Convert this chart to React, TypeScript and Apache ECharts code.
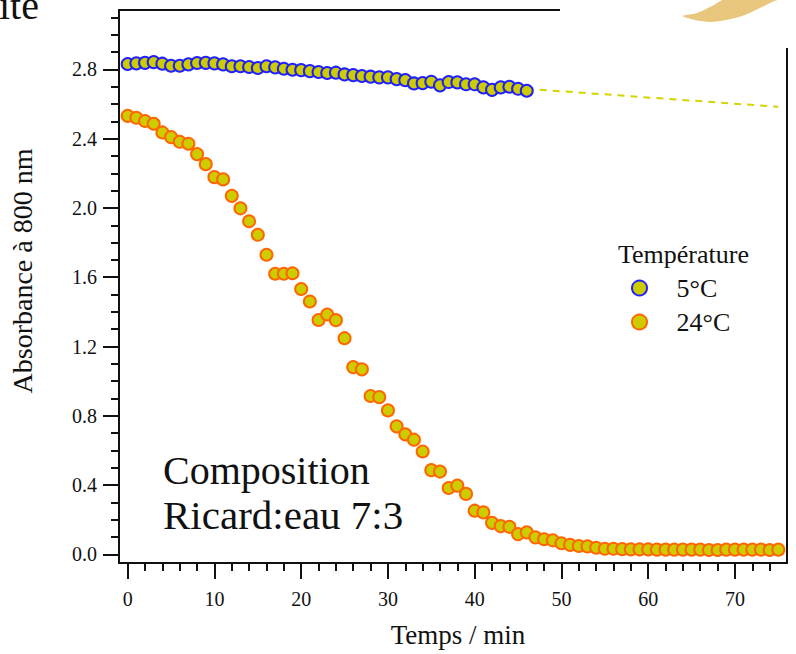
import React, { useEffect, useRef } from "react";
import * as echarts from "echarts";

const FONT = "'Liberation Serif', 'Times New Roman', serif";

// 5 °C series
const minutes5 = [0, 1, 2, 3, 4, 5, 6, 7, 8, 9, 10, 11, 12, 13, 14, 15, 16, 17, 18, 19, 20, 21, 22, 23, 24, 25, 26, 27, 28, 29, 30, 31, 32, 33, 34, 35, 36, 37, 38, 39, 40, 41, 42, 43, 44, 45, 46];
const abs5 = [2.831, 2.835, 2.838, 2.842, 2.833, 2.821, 2.821, 2.829, 2.837, 2.838, 2.835, 2.829, 2.818, 2.818, 2.814, 2.808, 2.818, 2.812, 2.804, 2.798, 2.796, 2.79, 2.785, 2.779, 2.781, 2.771, 2.767, 2.762, 2.758, 2.754, 2.754, 2.744, 2.738, 2.719, 2.721, 2.729, 2.708, 2.727, 2.725, 2.714, 2.714, 2.696, 2.682, 2.696, 2.7, 2.688, 2.677];

// 24 °C series
const minutes24 = [0, 1, 2, 3, 4, 5, 6, 7, 8, 9, 10, 11, 12, 13, 14, 15, 16, 17, 18, 19, 20, 21, 22, 23, 24, 25, 26, 27, 28, 29, 30, 31, 32, 33, 34, 35, 36, 37, 38, 39, 40, 41, 42, 43, 44, 45, 46, 47, 48, 49, 50, 51, 52, 53, 54, 55, 56, 57, 58, 59, 60, 61, 62, 63, 64, 65, 66, 67, 68, 69, 70, 71, 72, 73, 74, 75];
const abs24 = [
  2.532, 2.521, 2.502, 2.486, 2.436, 2.409, 2.382, 2.371, 2.311, 2.253,
  2.178, 2.165, 2.07, 1.998, 1.923, 1.845, 1.73, 1.62, 1.62, 1.623,
  1.532, 1.46, 1.353, 1.385, 1.352, 1.248, 1.081, 1.068, 0.914, 0.908,
  0.831, 0.739, 0.693, 0.662, 0.594, 0.486, 0.478, 0.383, 0.397, 0.349,
  0.252, 0.242, 0.182, 0.163, 0.159, 0.117, 0.127, 0.098, 0.087, 0.081,
  0.064, 0.055, 0.048, 0.046, 0.038, 0.032, 0.032, 0.03, 0.029, 0.029,
  0.029, 0.027, 0.027, 0.027, 0.027, 0.027, 0.027, 0.025, 0.025, 0.027,
  0.027, 0.027, 0.027, 0.027, 0.025, 0.027,
];

// extrapolated trend of the 5 °C series
const fitMinutes = [46, 75];
const fitAbs = [2.688, 2.584];

// ticks
const xMajor = [0, 10, 20, 30, 40, 50, 60, 70];
const xMinor = [2, 4, 6, 8, 12, 14, 16, 18, 22, 24, 26, 28, 32, 34, 36, 38, 42, 44, 46, 48, 52, 54, 56, 58, 62, 64, 66, 68, 72, 74];
const yMajor = [0, 0.4, 0.8, 1.2, 1.6, 2.0, 2.4, 2.8];
const yMinor = [0.1, 0.2, 0.3, 0.5, 0.6, 0.7, 0.9, 1.0, 1.1, 1.3, 1.4, 1.5, 1.7, 1.8, 1.9, 2.1, 2.2, 2.3, 2.5, 2.6, 2.7, 2.9, 3.0, 3.1];

const seriesNames = ["5°C", "24°C"];
const legendTitle = "Température";
const xTitle = "Temps / min";
const yTitle = "Absorbance à 800 nm";
const noteLines = ["Composition", "Ricard:eau 7:3"];
const cutTitle = "ite";

const FILL = "#cccc00";
const BLUE = "#2020ff";
const ORANGE = "#ff6600";
const INK = "#111111";

export default function App() {
  const ref = useRef<HTMLDivElement>(null);
  useEffect(() => {
    if (!ref.current) return;
    const chart = echarts.init(ref.current, null, { renderer: "svg" });
    const xBase = { type: "value", min: -1, max: 76, position: "bottom", splitLine: { show: false } };
    const yBase = { type: "value", min: -0.05, max: 3.143, position: "left", splitLine: { show: false } };
    const option: any = {
      animation: false,
      backgroundColor: "#ffffff",
      textStyle: { fontFamily: FONT },
      grid: { left: 119, right: 9, top: 10, bottom: 91, containLabel: false },
      xAxis: [
        {
          ...xBase,
          axisLine: { show: true, onZero: false, lineStyle: { color: INK, width: 2 } },
          axisTick: { show: true, customValues: xMajor, length: 16, lineStyle: { color: INK, width: 2 } },
          axisLabel: { show: true, customValues: xMajor, margin: 26, fontSize: 20, color: INK, fontFamily: FONT },
        },
        {
          ...xBase,
          axisLine: { show: false, onZero: false },
          axisTick: { show: true, customValues: xMinor, length: 8, lineStyle: { color: INK, width: 2 } },
          axisLabel: { show: false },
        },
      ],
      yAxis: [
        {
          ...yBase,
          axisLine: { show: true, onZero: false, lineStyle: { color: INK, width: 2 } },
          axisTick: { show: true, customValues: yMajor, length: 16, lineStyle: { color: INK, width: 2 } },
          axisLabel: {
            show: true,
            customValues: yMajor,
            margin: 22,
            fontSize: 20,
            color: INK,
            fontFamily: FONT,
            formatter: (v: number) => v.toFixed(1),
          },
        },
        {
          ...yBase,
          axisLine: { show: false, onZero: false },
          axisTick: { show: true, customValues: yMinor, length: 8, lineStyle: { color: INK, width: 2 } },
          axisLabel: { show: false },
        },
      ],
      legend: {
        orient: "vertical",
        left: 626,
        top: 270,
        itemWidth: 64,
        itemHeight: 15,
        itemGap: 8,
        selectedMode: false,
        textStyle: { fontSize: 26, color: INK, fontFamily: FONT, lineHeight: 24 },
        data: [
          { name: seriesNames[0], icon: "circle", itemStyle: { color: FILL, borderColor: BLUE, borderWidth: 2 } },
          { name: seriesNames[1], icon: "circle", itemStyle: { color: FILL, borderColor: ORANGE, borderWidth: 2 } },
        ],
      },
      series: [
        {
          name: "fit",
          type: "line",
          xAxisIndex: 0,
          yAxisIndex: 0,
          data: fitMinutes.map((m, i) => [m, fitAbs[i]]),
          symbol: "none",
          z: 1,
          lineStyle: { color: "#d4d400", width: 2, type: [7, 6] },
        },
        {
          name: seriesNames[0],
          type: "scatter",
          xAxisIndex: 0,
          yAxisIndex: 0,
          data: minutes5.map((m, i) => [m, abs5[i]]),
          symbol: "circle",
          symbolSize: 12,
          z: 3,
          itemStyle: { color: FILL, borderColor: BLUE, borderWidth: 2, opacity: 1 },
        },
        {
          name: seriesNames[1],
          type: "scatter",
          xAxisIndex: 0,
          yAxisIndex: 0,
          data: minutes24.map((m, i) => [m, abs24[i]]),
          symbol: "circle",
          symbolSize: 12,
          z: 3,
          itemStyle: { color: FILL, borderColor: ORANGE, borderWidth: 2, opacity: 1 },
        },
      ],
      graphic: [
        { type: "line", shape: { x1: 118, y1: 10, x2: 560, y2: 10 }, style: { stroke: INK, lineWidth: 2 } },
        { type: "line", shape: { x1: 787, y1: 48, x2: 787, y2: 564 }, style: { stroke: INK, lineWidth: 2 } },
        {
          type: "polygon",
          shape: {
            points: [[683, 16], [695, 20], [710, 22], [726, 20], [742, 16], [758, 9], [772, 2], [782, -2], [728, -2], [712, 6], [697, 13]],
            smooth: 0.3,
          },
          style: { fill: "#e8c67e" },
        },
        {
          type: "text",
          x: -1,
          y: 5,
          style: { text: cutTitle, fontSize: 40, fontFamily: FONT, fill: INK, align: "left", verticalAlign: "middle" },
        },
        {
          type: "text",
          x: 618,
          y: 254,
          style: { text: legendTitle, fontSize: 26, fontFamily: FONT, fill: INK, align: "left", verticalAlign: "middle" },
        },
        {
          type: "text",
          x: 163,
          y: 470,
          style: { text: noteLines[0], fontSize: 40, fontFamily: FONT, fill: INK, align: "left", verticalAlign: "middle" },
        },
        {
          type: "text",
          x: 163,
          y: 515,
          style: { text: noteLines[1], fontSize: 41, fontFamily: FONT, fill: INK, align: "left", verticalAlign: "middle" },
        },
        {
          type: "text",
          x: 458,
          y: 635,
          style: { text: xTitle, fontSize: 27, fontFamily: FONT, fill: INK, align: "center", verticalAlign: "middle" },
        },
        {
          type: "text",
          x: 22,
          y: 271,
          rotation: Math.PI / 2,
          style: { text: yTitle, fontSize: 28, fontFamily: FONT, fill: INK, align: "center", verticalAlign: "middle" },
        },
      ],
    };
    chart.setOption(option);
    return () => chart.dispose();
  }, []);
  return <div ref={ref} style={{ position: "absolute", left: 0, top: 0, width: 796, height: 654 }} />;
}
